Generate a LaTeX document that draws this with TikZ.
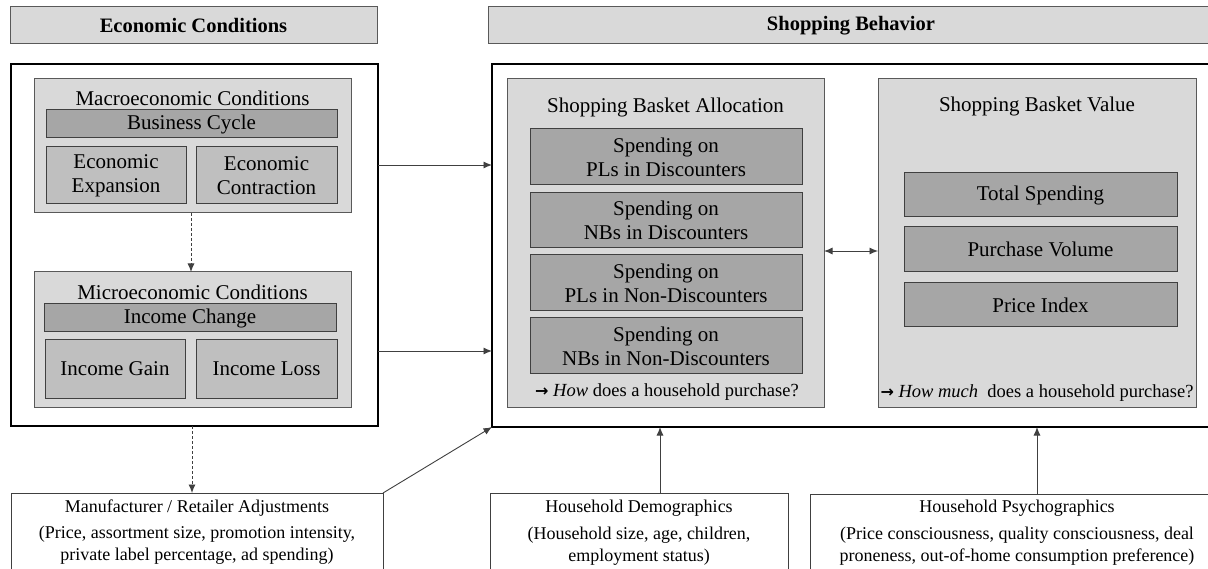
\documentclass[tikz,border=0pt]{standalone}
\usepackage{fontspec}
\setmainfont{Liberation Serif}
\newfontfamily\arrowfont{DejaVu Sans}
\usetikzlibrary{arrows.meta}
\definecolor{lightbg}{HTML}{D9D9D9}
\definecolor{darkbar}{HTML}{A6A6A6}
\definecolor{midbox}{HTML}{BFBFBF}
\definecolor{edge}{HTML}{595959}
\definecolor{lineclr}{HTML}{404040}
\newcommand{\rarr}{{\arrowfont\bfseries\fontsize{16}{20}\selectfont →}}
\begin{document}
\begin{tikzpicture}[x=1pt,y=-1pt,
  every node/.style={inner sep=0pt, outer sep=0pt},
  hdr/.style={draw=edge, line width=1pt, fill=lightbg, font=\fontsize{20.5}{24}\selectfont\bfseries},
  bigbox/.style={draw=black, line width=2.8pt},
  panel/.style={draw=edge, line width=1pt, fill=lightbg},
  bar/.style={draw=lineclr, line width=1pt, fill=darkbar, align=center, font=\fontsize{21}{24}\selectfont},
  subbox/.style={draw=lineclr, line width=1pt, fill=midbox, align=center, font=\fontsize{21}{24}\selectfont},
  ttl/.style={font=\fontsize{21}{24}\selectfont},
  note/.style={font=\fontsize{18.5}{22}\selectfont},
  outbox/.style={draw=lineclr, line width=0.9pt, fill=white},
  small/.style={font=\fontsize{18}{22}\selectfont},
  arr/.style={draw=lineclr, line width=0.9pt, -{Latex[length=8.5pt,width=7pt]}},
  darr/.style={arr, dash pattern=on 3pt off 2pt},
  biarr/.style={draw=lineclr, line width=0.9pt, {Latex[length=8.5pt,width=7pt]}-{Latex[length=8.5pt,width=7pt]}}
]
\clip (0,0) rectangle (1208,569);
\fill[white] (0,0) rectangle (1208,569);

% headers
\node[hdr, minimum width=367pt, minimum height=37pt] (hEC) at (193.5,25.5) {Economic Conditions};
\node[hdr, minimum width=726pt, minimum height=37pt] (hSB) at (851,25.5) {Shopping Behavior};

% big boxes
\node[bigbox, minimum width=367pt, minimum height=362pt] (econ) at (194.5,245) {};
\node[bigbox, minimum width=722pt, minimum height=363pt] (shop) at (853,245.5) {};

% macro
\node[panel, minimum width=317pt, minimum height=134pt] (macro) at (192.5,146) {};
\node[ttl] (macroT) at (192.5,98) {Macroeconomic Conditions};
\node[bar, minimum width=291pt, minimum height=28pt] (bc) at (191.5,124) {Business Cycle};
\node[subbox, minimum width=140pt, minimum height=57pt] (ee) at (116,175.5) {Economic\\Expansion};
\node[subbox, minimum width=141pt, minimum height=57pt] (ec) at (266.5,175.5) {Economic\\Contraction};

% micro
\node[panel, minimum width=317pt, minimum height=135pt] (micro) at (192.5,339.5) {};
\node[ttl] (microT) at (192.5,292) {Microeconomic Conditions};
\node[bar, minimum width=292pt, minimum height=28pt] (ic) at (190,318) {Income Change};
\node[subbox, minimum width=140pt, minimum height=58pt] (ig) at (115,369) {Income Gain};
\node[subbox, minimum width=141pt, minimum height=58pt] (il) at (266.5,369) {Income Loss};

% allocation
\node[panel, minimum width=317pt, minimum height=328pt] (alloc) at (665.5,243) {};
\node[ttl] (allocT) at (665.5,107) {Shopping Basket Allocation};
\node[bar, minimum width=272pt, minimum height=56pt] (s1) at (666,157) {Spending on\\PLs in Discounters};
\node[bar, minimum width=272pt, minimum height=55pt] (s2) at (666,220.5) {Spending on\\NBs in Discounters};
\node[bar, minimum width=272pt, minimum height=56pt] (s3) at (666,283) {Spending on\\PLs in Non-Discounters};
\node[bar, minimum width=272pt, minimum height=56pt] (s4) at (666,346) {Spending on\\NBs in Non-Discounters};
\node[note] (howA) at (667,392) {\rarr\ \textit{How} does a household purchase?};

% value
\node[panel, minimum width=318pt, minimum height=328pt] (value) at (1037,243) {};
\node[ttl] (valueT) at (1037,106) {Shopping Basket Value};
\node[bar, minimum width=273pt, minimum height=44pt] (ts) at (1040.5,195) {Total Spending};
\node[bar, minimum width=273pt, minimum height=45pt] (pv) at (1040.5,249.5) {Purchase Volume};
\node[bar, minimum width=273pt, minimum height=44pt] (pi) at (1040.5,305) {Price Index};
\node[note] (howV) at (1037,393) {\rarr\ \textit{How much}\ \ does a household purchase?};

% bottom boxes
\node[outbox, minimum width=372pt, minimum height=78pt] (mra) at (197,532) {};
\node[small] at (197,508) {Manufacturer / Retailer Adjustments};
\node[small] at (197,534) {(Price, assortment size, promotion intensity,};
\node[small] at (197,556) {private label percentage, ad spending)};

\node[outbox, minimum width=298pt, minimum height=78pt] (demo) at (639,532) {};
\node[small] at (639,508) {Household Demographics};
\node[small] at (639,535) {(Household size, age, children,};
\node[small] at (639,557) {employment status)};

\node[outbox, minimum width=414pt, minimum height=78pt] (psych) at (1017,533) {};
\node[small] at (1017,508) {Household Psychographics};
\node[small] at (1017,535) {(Price consciousness, quality consciousness, deal};
\node[small] at (1017,557) {proneness, out-of-home consumption preference)};

% connectors
\draw[arr] (econ.east |- 0,165) -- (shop.west |- 0,165);
\draw[arr] (econ.east |- 0,351) -- (shop.west |- 0,351);
\draw[darr] (macro.south -| 191,0) -- (micro.north -| 191,0);
\draw[darr] (econ.south -| 192,0) -- (mra.north -| 192,0);
\draw[arr] (mra.north east) -- (shop.south west);
\draw[biarr] (alloc.east |- 0,251) -- (value.west |- 0,251);
\draw[arr] (demo.north -| 660,0) -- (shop.south -| 660,0);
\draw[arr] (psych.north -| 1037,0) -- (shop.south -| 1037,0);
\end{tikzpicture}
\end{document}
